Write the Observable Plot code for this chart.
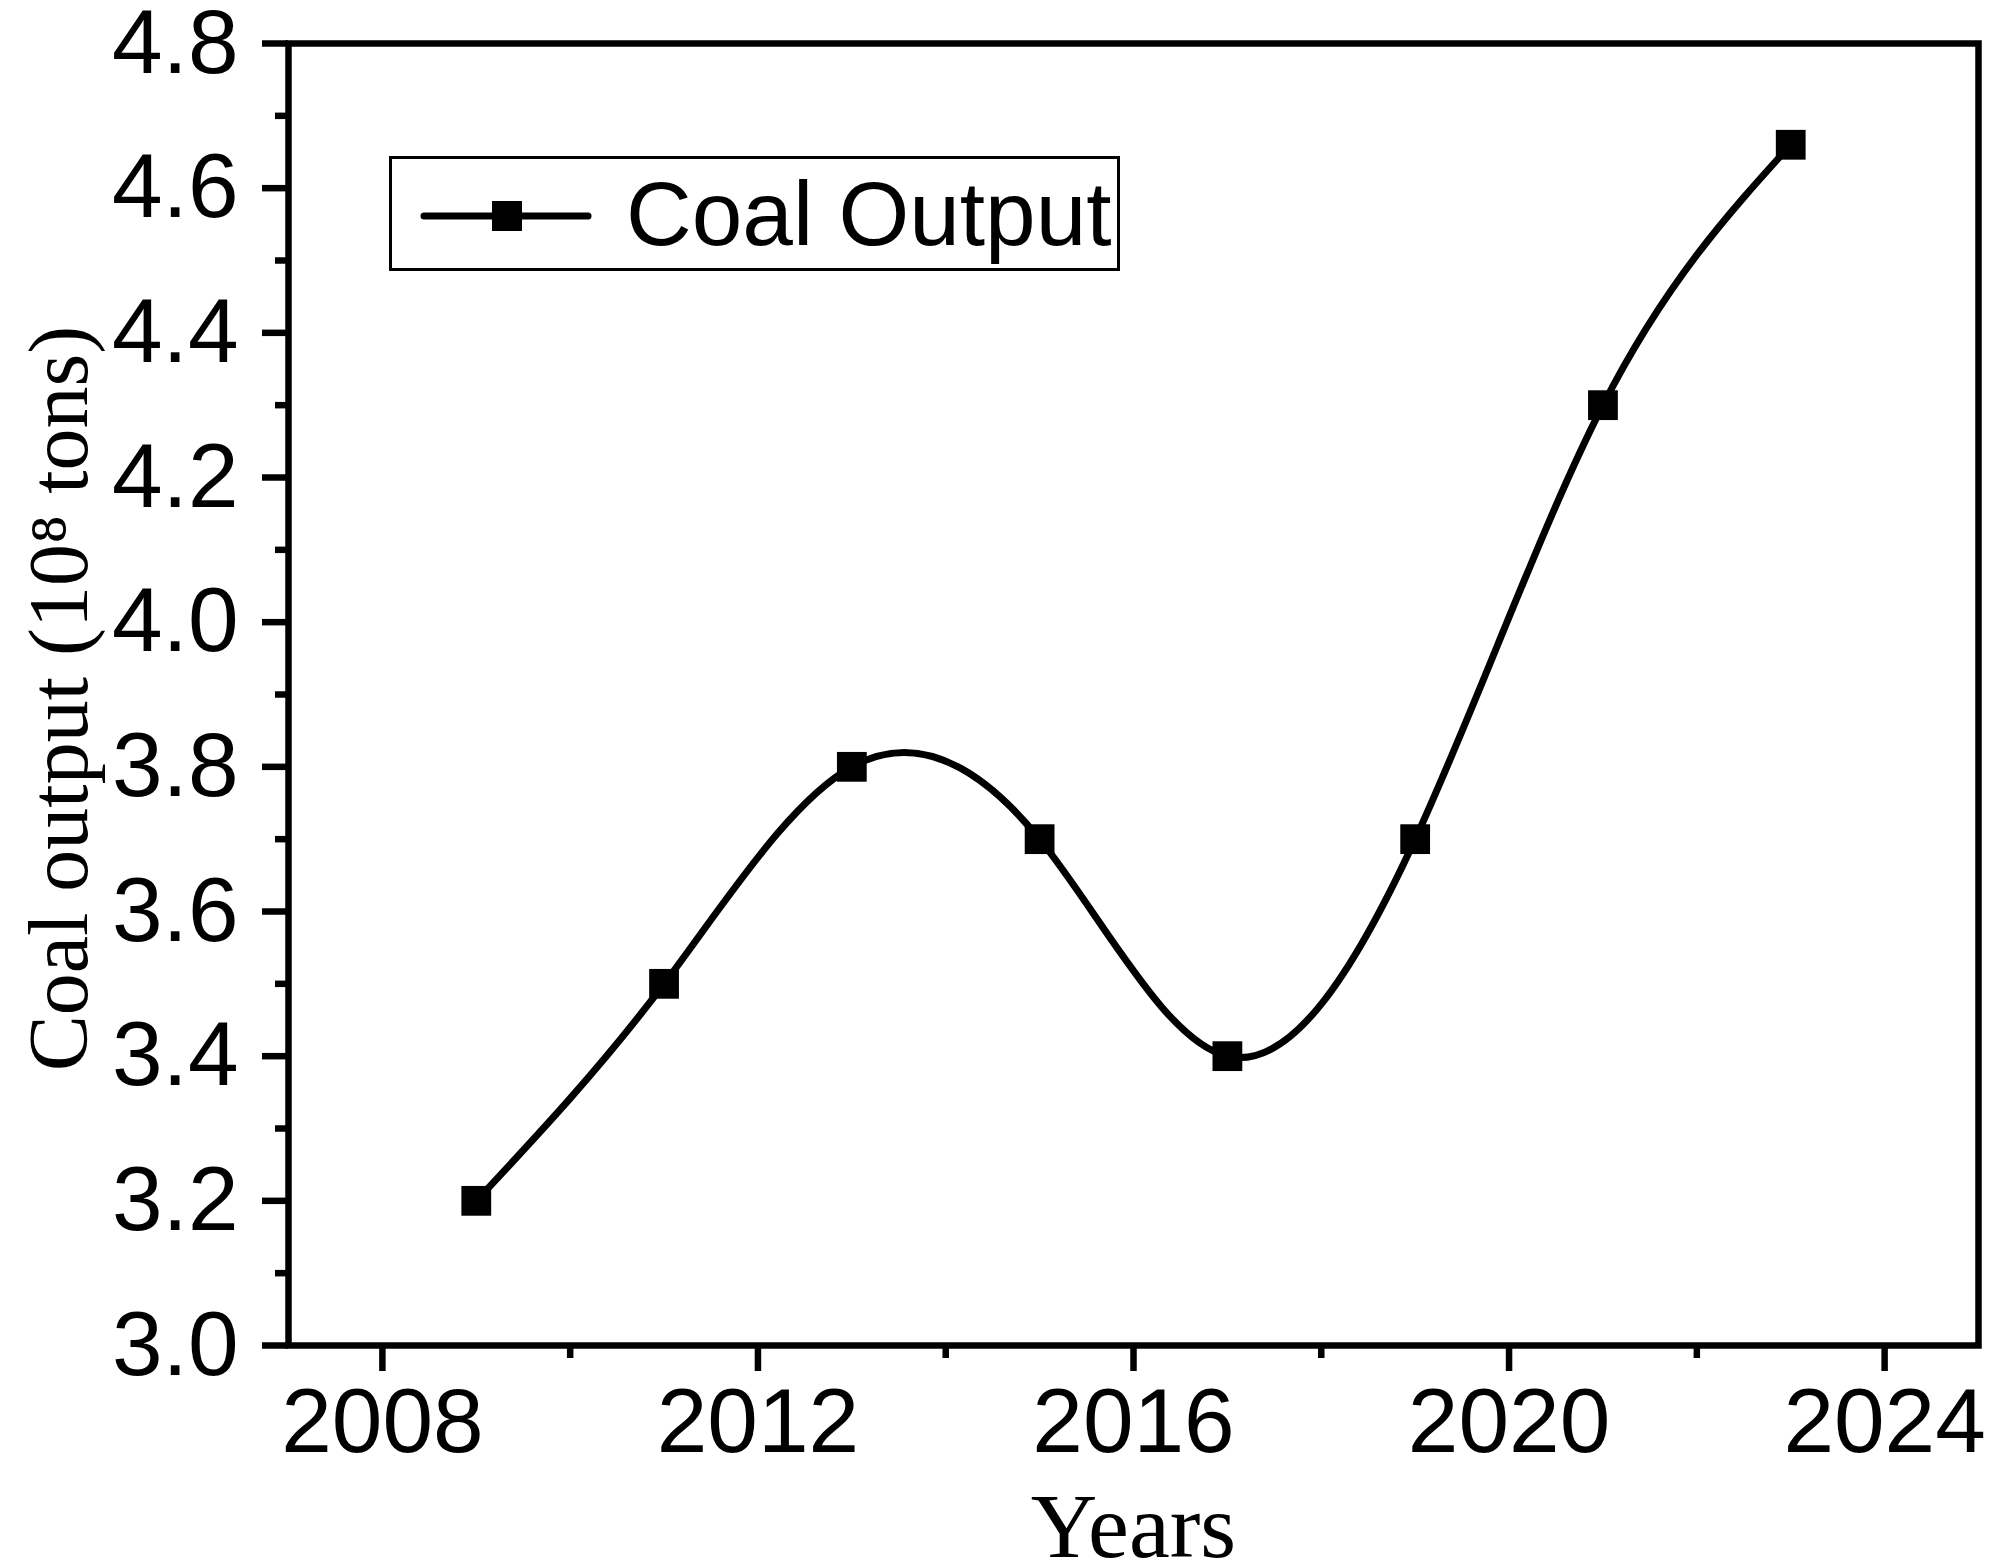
<!DOCTYPE html>
<html>
<head>
<meta charset="utf-8">
<script src="https://cdn.jsdelivr.net/npm/d3@7"></script>
<script src="https://cdn.jsdelivr.net/npm/@observablehq/plot@0.6"></script>
<style>
  html, body { margin: 0; padding: 0; background: #fff; }
  #wrap { position: relative; width: 2000px; height: 1563px; }
  #legend {
    position: absolute; left: 389px; top: 156px; width: 731px; height: 115px;
    box-sizing: border-box; border: 3px solid #000; background: #fff;
  }
  #legend svg { position: absolute; left: 0; top: 0; }
  #legend span {
    position: absolute; left: 234px; top: 0; height: 109px; line-height: 109px;
    font-family: "Liberation Sans", Arial, sans-serif; font-size: 91px; color: #000;
  }
</style>
</head>
<body>
<div id="wrap"><div id="legend"></div></div>
<script>
const years = [2009, 2011, 2013, 2015, 2017, 2019, 2021, 2023];
const coalOutput = [3.2, 3.5, 3.8, 3.7, 3.4, 3.7, 4.3, 4.66];
const xMajorTicks = [2008, 2012, 2016, 2020, 2024];
const xMinorTicks = [2010, 2014, 2018, 2022];
const yMajorTicks = [3.0, 3.2, 3.4, 3.6, 3.8, 4.0, 4.2, 4.4, 4.6, 4.8];
const yMinorTicks = [3.1, 3.3, 3.5, 3.7, 3.9, 4.1, 4.3, 4.5, 4.7];
const seriesName = "Coal Output";
const xTitle = "Years";
const yTitle = "Coal output (10\u2078 tons)";

const data = years.map((year, i) => ({year, value: coalOutput[i]}));

const sans = "Liberation Sans, Arial, sans-serif";
const serif = "Liberation Serif, Times New Roman, serif";

const chart = Plot.plot({
  width: 2000,
  height: 1563,
  marginLeft: 288,
  marginRight: 22,
  marginTop: 43,
  marginBottom: 218,
  style: {background: "#fff", color: "#000", overflow: "visible"},
  x: {domain: [2007, 2025]},
  y: {domain: [3.0, 4.8]},
  marks: [
    Plot.frame({stroke: "#000", strokeWidth: 6.5}),
    Plot.axisX({ticks: xMajorTicks, tickSize: 26, tickPadding: 16, tickFormat: "d",
      strokeWidth: 6.5, fontSize: 91, fontFamily: sans, label: null}),
    Plot.axisX({ticks: xMinorTicks, tickSize: 13, text: null, strokeWidth: 6.5, label: null}),
    Plot.axisY({ticks: yMajorTicks, tickSize: 26, tickPadding: 24, tickFormat: ".1f",
      strokeWidth: 6.5, fontSize: 91, fontFamily: sans, label: null}),
    Plot.axisY({ticks: yMinorTicks, tickSize: 13, text: null, strokeWidth: 6.5, label: null}),
    Plot.line(data, {x: "year", y: "value", curve: "natural", stroke: "#000", strokeWidth: 7}),
    Plot.dot(data, {x: "year", y: "value", symbol: "square", r: 16.8, fill: "#000", stroke: null}),
    Plot.text([xTitle], {text: d => d, frameAnchor: "bottom", dy: 211, lineAnchor: "bottom",
      textAnchor: "middle", fontSize: 92, fontFamily: serif, fill: "#000"}),
    Plot.text([yTitle], {text: d => d, frameAnchor: "left", dx: -228, dy: 4, rotate: -90, lineAnchor: "middle",
      textAnchor: "middle", fontSize: 84, fontFamily: serif, fill: "#000"})
  ]
});
document.getElementById("wrap").prepend(chart);

// Legend (inside plot area, as in the reference)
const legend = d3.select("#legend");
const ls = legend.append("svg").attr("width", 200).attr("height", 109);
ls.append("line").attr("x1", 32).attr("x2", 196).attr("y1", 57).attr("y2", 57)
  .attr("stroke", "#000").attr("stroke-width", 7).attr("stroke-linecap", "round");
ls.append("rect").attr("x", 115 - 15).attr("y", 57 - 15).attr("width", 30).attr("height", 30).attr("fill", "#000");
legend.append("span").text(seriesName);
</script>
</body>
</html>
